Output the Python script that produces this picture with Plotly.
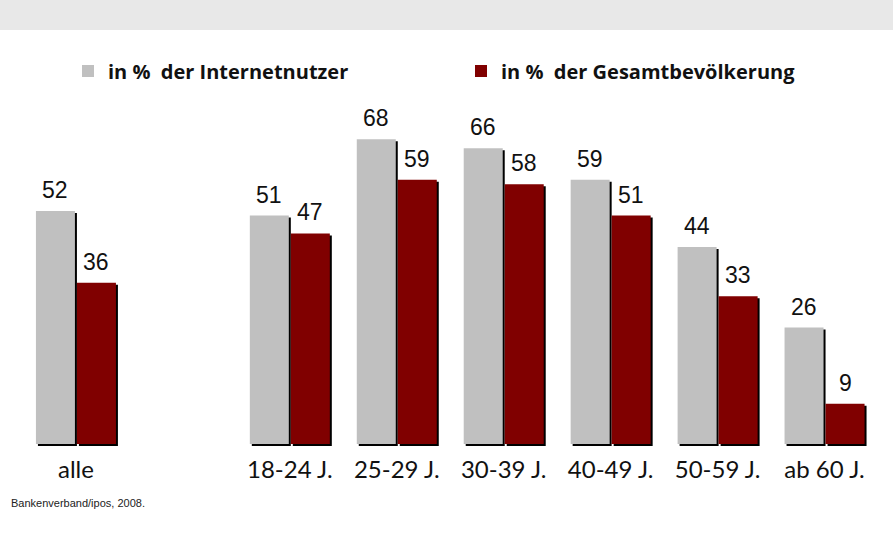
import plotly.graph_objects as go

categories = ["alle", "18-24 J.", "25-29 J.", "30-39 J.", "40-49 J.", "50-59 J.", "ab 60 J."]
positions = [0, 2, 3, 4, 5, 6, 7]
internetnutzer = [52, 51, 68, 66, 59, 44, 26]
gesamtbevoelkerung = [36, 47, 59, 58, 51, 33, 9]
series_names = ["in %\u00a0\u00a0der Internetnutzer", "in %\u00a0\u00a0der Gesamtbevölkerung"]
source_text = "Bankenverband/ipos, 2008."

GREY = "#c0c0c0"
RED = "#800000"
W = 893
H = 535
UNIT = W / 8.35           # px per category unit
BW = 39 / UNIT            # bar width
GAP = 1 / UNIT
SH_X = 2 / UNIT
PX_PER_VAL = 4.48
SH_Y = 2 / PX_PER_VAL

top_m = 100
bot_m = 85
plot_h = H - top_m - bot_m


def py(pix):
    """pixel row -> paper y"""
    return (H - bot_m - pix) / plot_h


fig = go.Figure()

# shadows
for vals, off in [(internetnutzer, -BW - GAP), (gesamtbevoelkerung, GAP)]:
    fig.add_trace(go.Bar(
        x=positions, y=vals, base=[-SH_Y] * len(vals),
        offset=off + SH_X, width=BW,
        marker=dict(color="black", line=dict(width=0)),
        showlegend=False, hoverinfo="skip"))

fig.add_trace(go.Bar(
    x=positions, y=internetnutzer, offset=-BW - GAP, width=BW,
    name=series_names[0], marker=dict(color=GREY, line=dict(width=0))))
fig.add_trace(go.Bar(
    x=positions, y=gesamtbevoelkerung, offset=GAP, width=BW,
    name=series_names[1], marker=dict(color=RED, line=dict(width=0))))

lab_font = dict(family="Liberation Sans, Arial", size=23, color="#111")
annotations = []
for p, v in zip(positions, internetnutzer):
    annotations.append(dict(x=p - GAP - BW / 2, y=v, xref="x", yref="y", text=str(v),
                            showarrow=False, yanchor="bottom", yshift=6, font=lab_font))
for p, v in zip(positions, gesamtbevoelkerung):
    annotations.append(dict(x=p + GAP + BW / 2, y=v, xref="x", yref="y", text=str(v),
                            showarrow=False, yanchor="bottom", yshift=6, font=lab_font))
annotations.append(dict(x=9 / W, y=py(503), xref="paper", yref="paper",
                        text=source_text, showarrow=False, xanchor="left", yanchor="middle",
                        font=dict(family="Liberation Sans, Arial", size=11, color="#222")))

y0 = -(450 - 444) / PX_PER_VAL
y1 = y0 + plot_h / PX_PER_VAL

fig.update_layout(
    width=W, height=H,
    margin=dict(l=0, r=0, t=top_m, b=bot_m),
    paper_bgcolor="white", plot_bgcolor="white",
    barmode="overlay",
    xaxis=dict(range=[-0.71, 7.64], tickvals=positions, ticktext=categories,
               showgrid=False, zeroline=False, showline=False, ticks="",
               tickfont=dict(family="Lato", size=24, color="#111"),
               ticklabelstandoff=3),
    yaxis=dict(range=[y0, y1], visible=False),
    legend=dict(orientation="h", x=68 / W, xanchor="left", y=1 - 71 / H,
                yref="container", yanchor="middle",
                entrywidth=348, entrywidthmode="pixels",
                bgcolor="rgba(0,0,0,0)",
                font=dict(family="Open Sans", size=20, color="#111", weight="bold"),
                traceorder="normal"),
    annotations=annotations,
    shapes=[dict(type="rect", xref="paper", yref="paper", x0=-0.01, x1=1.01,
                 y0=py(30), y1=py(-5), fillcolor="#e8e8e8", line=dict(width=0),
                 layer="below")],
    showlegend=True,
)

fig.write_html("out.html", post_script="document.body.style.margin='0';",
               config={"displayModeBar": False})
